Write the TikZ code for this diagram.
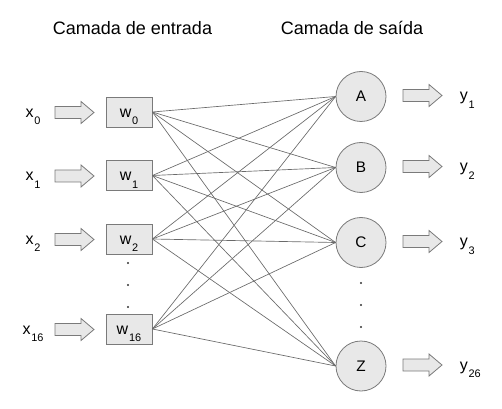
\documentclass[tikz,border=0pt]{standalone}
\usepackage{fontspec}
\setmainfont{Liberation Sans}
\definecolor{shade}{HTML}{E8E8E8}
\definecolor{edge}{HTML}{7A7A7A}
\definecolor{wire}{HTML}{6A6A6A}
\newcommand\sublbl[2]{#1\kern0.6pt\raisebox{-5.6pt}{\fontsize{8.2}{9}\selectfont #2}}
\tikzset{
  wbox/.style={draw=edge, fill=shade, line width=0.6pt, minimum width=34.5pt, minimum height=22.5pt, inner sep=0pt},
  neuron/.style={draw=edge, fill=shade, line width=0.6pt, circle, minimum size=37.5pt, inner sep=0pt, font=\fontsize{11.5}{13}\selectfont},
  lbl/.style={inner sep=0pt, anchor=base, font=\fontsize{12}{14}\selectfont},
  title/.style={inner sep=0pt, anchor=base, font=\fontsize{13.5}{16}\selectfont},
  wireline/.style={draw=wire, line width=0.5pt},
  dotmark/.style={circle, fill=black!80, inner sep=0pt, minimum size=1.6pt},
  barrow/.pic={\draw[draw=edge, fill=shade, line width=0.6pt, line join=miter]
     (-19.5,-6) -- (6.5,-6) -- (6.5,-11) -- (19.5,0) -- (6.5,11) -- (6.5,6) -- (-19.5,6) -- cycle;}
}
\begin{document}
\begin{tikzpicture}[x=0.75pt, y=-0.75pt]
\useasboundingbox (0,0) rectangle (502,409);
% titles
\node[title] (t1) at (132.5,35) {Camada de entrada};
\node[title] (t2) at (352,35) {Camada de saída};
% input layer
\foreach \n/\yy/\s in {0/112/0, 1/175.5/1, 2/239/2, 3/329/16} {
  \node[wbox] (w\n) at (129,\yy) {};
  \node[lbl] (wl\n) at (129,\yy+5.5) {\sublbl{w}{\s}};
  \node[lbl] (xl\n) at (33,\yy+5.5) {\sublbl{x}{\s}};
  \pic (ia\n) at (74.5,\yy+0.5) {barrow};
}
% output layer
\foreach \n/\yy/\L/\s in {A/96.5/A/1, B/167.5/B/2, C/242.5/C/3, Z/366/Z/26} {
  \node[neuron] (\n) at (361,\yy) {\L};
  \pic (oa\n) at (422.5,\yy-1) {barrow};
  \node[lbl, anchor=base west] (yl\n) at (459.5,\yy+4.5) {\sublbl{y}{\s}};
}
% dots
\foreach \i/\yy in {1/263, 2/285, 3/307} {
  \node[dotmark] (ld\i) at (128,\yy) {};
}
\foreach \i/\yy in {1/283, 2/305, 3/327} {
  \node[dotmark] (rd\i) at (361,\yy) {};
}
% connections
\foreach \a in {0,1,2,3} {
  \foreach \b in {A,B,C,Z} {
    \draw[wireline] (w\a.east) -- (\b.west);
  }
}
\end{tikzpicture}
\end{document}
